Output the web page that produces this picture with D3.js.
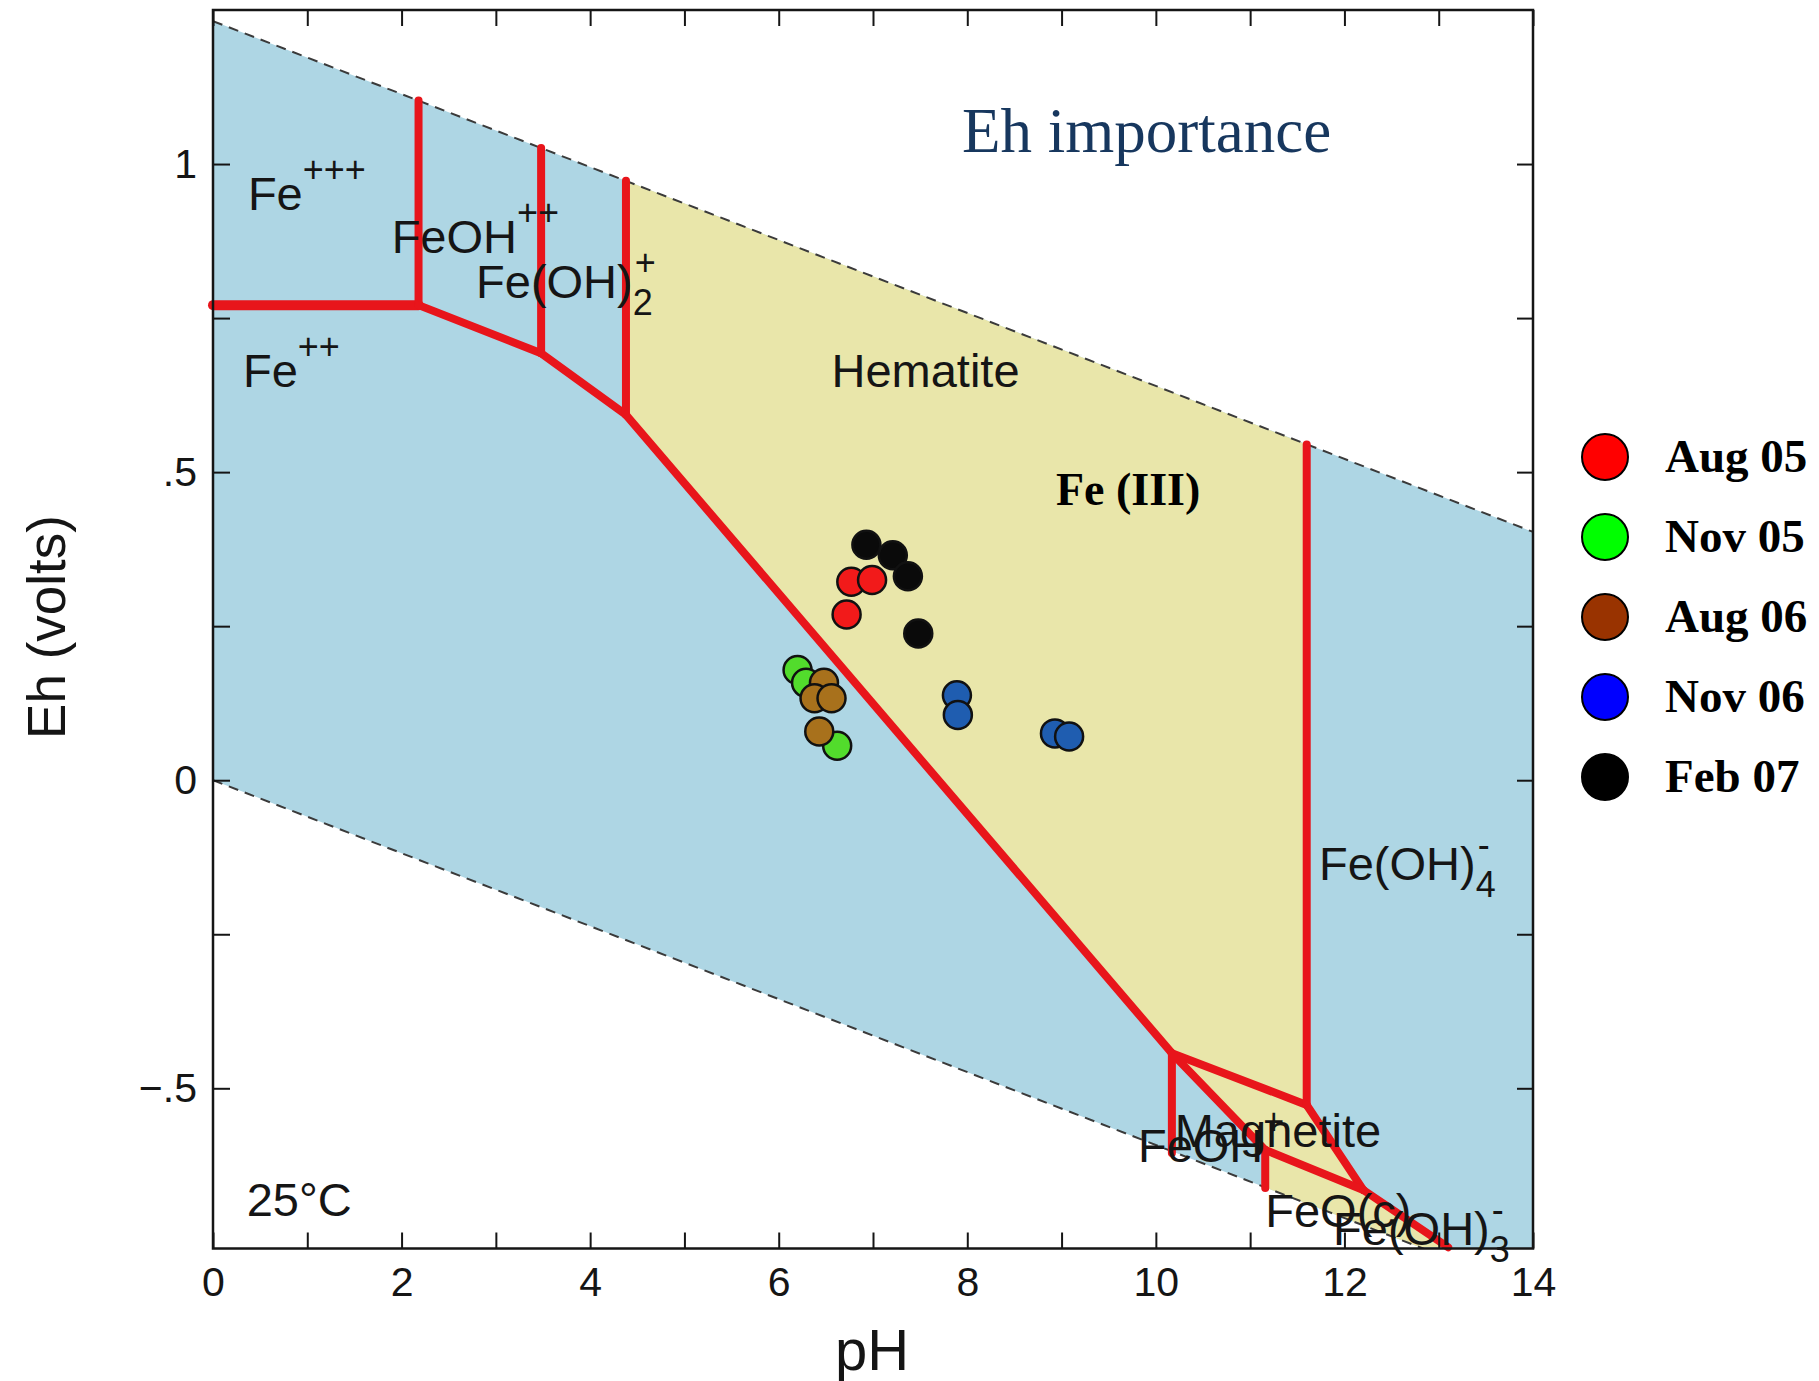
<!DOCTYPE html>
<html>
<head>
<meta charset="utf-8">
<title>Eh importance</title>
<script src="https://cdn.jsdelivr.net/npm/d3@7"></script>
<style>
  html, body { margin: 0; padding: 0; background: #fff; }
  svg { display: block; }
  .sans { font-family: "Liberation Sans", Arial, sans-serif; fill: #151515; }
  .serif { font-family: "Liberation Serif", "Times New Roman", serif; }
  .axis text { font-family: "Liberation Sans", Arial, sans-serif; font-size: 41px; fill: #151515; }
  .axis line { stroke: #151515; stroke-width: 2; }
  .axis path { display: none; }
</style>
</head>
<body>
<svg id="chart" width="1819" height="1381"></svg>
<script>
// sample points (pH, Eh in volts)
const seriesNames = ["Aug 05", "Nov 05", "Aug 06", "Nov 06", "Feb 07"];
const aug05PH = [6.77, 6.99, 6.72];
const aug05Eh = [0.322, 0.325, 0.269];
const nov05PH = [6.20, 6.29, 6.62];
const nov05Eh = [0.179, 0.158, 0.056];
const aug06PH = [6.48, 6.38, 6.56, 6.43];
const aug06Eh = [0.158, 0.133, 0.133, 0.079];
const nov06PH = [7.89, 7.90, 8.93, 9.08];
const nov06Eh = [0.138, 0.106, 0.076, 0.071];
const feb07PH = [6.93, 7.21, 7.37, 7.48];
const feb07Eh = [0.382, 0.365, 0.331, 0.238];

// axes
const xTickValues = d3.range(0, 15);
const xTickLabels = ["0", "2", "4", "6", "8", "10", "12", "14"];
const yTickValues = [-0.5, -0.25, 0, 0.25, 0.5, 0.75, 1];
const yLabelValues = [-0.5, 0, 0.5, 1];
const yTickLabels = ["\u2212.5", "0", ".5", "1"];

// water stability limits
const upperWater = [[0, 1.232], [14, 0.403]];
const lowerWater = [[0, 0], [14, -0.829]];

// stability fields
const waterField = [[0, 1.232], [14, 0.403], [14, -0.829], [0, 0]];
const hematiteField = [[4.38, 0.973], [11.6, 0.545], [11.6, -0.527], [10.17, -0.443], [4.38, 0.593]];
const magnetiteField = [[10.17, -0.443], [11.6, -0.527], [12.2, -0.665], [11.16, -0.600]];
const feoField = [[11.16, -0.600], [12.2, -0.665], [13.1, -0.758], [12.8, -0.758], [11.16, -0.661]];

// phase boundaries
const boundaries = [
	[[0, 0.771], [2.18, 0.771]],
	[[2.18, 0.771], [2.18, 1.103]],
	[[2.18, 0.771], [3.48, 0.693]],
	[[3.48, 0.693], [3.48, 1.026]],
	[[3.48, 0.693], [4.38, 0.593]],
	[[4.38, 0.593], [4.38, 0.973]],
	[[4.38, 0.593], [10.17, -0.443]],
	[[10.17, -0.443], [10.17, -0.605]],
	[[10.17, -0.443], [11.6, -0.527]],
	[[11.6, -0.527], [11.6, 0.545]],
	[[11.6, -0.527], [12.2, -0.665]],
	[[10.17, -0.443], [11.16, -0.600]],
	[[11.16, -0.600], [12.2, -0.665]],
	[[11.16, -0.600], [11.16, -0.662]],
	[[12.2, -0.665], [13.1, -0.758]]
];

// species labels
const speciesLabels = [
	{ text: "Fe", sup: "+++", ph: 0.37, eh: 0.925 },
	{ text: "FeOH", sup: "++", ph: 1.895, eh: 0.856 },
	{ text: "Fe(OH)", sub: "2", sup: "+", ph: 2.79, eh: 0.783 },
	{ text: "Fe", sup: "++", ph: 0.318, eh: 0.638 },
	{ text: "Hematite", ph: 6.56, eh: 0.638 },
	{ text: "Fe(OH)", sub: "4", sup: "-", ph: 11.73, eh: -0.162 },
	{ text: "FeOH", sup: "+", ph: 9.81, eh: -0.619 },
	{ text: "Magnetite", ph: 10.2, eh: -0.595 },
	{ text: "FeO(c)", ph: 11.16, eh: -0.725 },
	{ text: "Fe(OH)", sub: "3", sup: "-", ph: 11.88, eh: -0.754 },
	{ text: "25\u00b0C", ph: 0.357, eh: -0.708 }
];

const markColors = ["#f21a1a", "#52dc2c", "#a8711c", "#1f5db0", "#0a0a0a"];
const legendColors = ["#ff0000", "#00ff00", "#993300", "#0000ff", "#000000"];

const series = [
	{ name: seriesNames[0], ph: aug05PH, eh: aug05Eh, i: 0 },
	{ name: seriesNames[1], ph: nov05PH, eh: nov05Eh, i: 1 },
	{ name: seriesNames[2], ph: aug06PH, eh: aug06Eh, i: 2 },
	{ name: seriesNames[3], ph: nov06PH, eh: nov06Eh, i: 3 },
	{ name: seriesNames[4], ph: feb07PH, eh: feb07Eh, i: 4 }
];
// drawing order as in the figure: black first, then green, brown, red, blue
const drawOrder = [4, 1, 2, 0, 3];

function drawChart() {
	const svg = d3.select("#chart"),
		left = 213, right = 1533, top = 10, bottom = 1248.5;

	const x = d3.scaleLinear().domain([0, 14]).range([left, right]);
	const y = d3.scaleLinear().domain([-0.76, 1.25]).range([bottom, top]);
	const line = d3.line().x(d => x(d[0])).y(d => y(d[1]));

	svg.append("rect").attr("width", 1819).attr("height", 1381).attr("fill", "#fff");

	svg.append("defs").append("clipPath")
		.attr("id", "clip")
		.append("rect")
		.attr("x", left).attr("y", top)
		.attr("width", right - left).attr("height", bottom - top);

	const plot = svg.append("g").attr("clip-path", "url(#clip)");

	plot.append("path").datum(waterField).attr("d", d => line(d) + "Z").attr("fill", "#aed6e4");
	[hematiteField, magnetiteField, feoField].forEach(f => {
		plot.append("path").datum(f).attr("d", d => line(d) + "Z").attr("fill", "#e9e6aa");
	});

	[upperWater, lowerWater].forEach(w => {
		plot.append("path").datum(w)
			.attr("d", line)
			.attr("fill", "none")
			.attr("stroke", "#3a3a3a")
			.attr("stroke-width", 2)
			.attr("stroke-dasharray", "10,7");
	});

	svg.append("g").selectAll("path")
		.data(boundaries)
		.join("path")
		.attr("d", line)
		.attr("fill", "none")
		.attr("stroke", "#e8151b")
		.attr("stroke-width", (d, i) => i === 0 ? 10 : 8)
		.attr("stroke-linecap", "round")
		.attr("stroke-linejoin", "round");

	// sample points
	const pts = svg.append("g");
	drawOrder.forEach(k => {
		const s = series[k];
		pts.selectAll(null)
			.data(s.ph.map((p, j) => [p, s.eh[j]]))
			.join("circle")
			.attr("cx", d => x(d[0]))
			.attr("cy", d => y(d[1]))
			.attr("r", 14)
			.attr("fill", markColors[s.i])
			.attr("stroke", "#111")
			.attr("stroke-width", 2.5);
	});

	// species labels
	speciesLabels.forEach(d => {
		const t = svg.append("text")
			.attr("class", "sans")
			.attr("x", x(d.ph))
			.attr("y", y(d.eh))
			.style("font-size", "47px");
		t.append("tspan").text(d.text);
		if (d.sub) {
			t.append("tspan").attr("dy", 17).style("font-size", "36px").text(d.sub);
		}
		if (d.sup) {
			t.append("tspan")
				.attr("dx", d.sub ? -18 : 0)
				.attr("dy", d.sub ? -40 : -28)
				.style("font-size", "36px")
				.text(d.sup);
		}
	});

	svg.append("text")
		.attr("class", "serif")
		.attr("x", x(8.94)).attr("y", y(0.447))
		.style("font-size", "46px").style("font-weight", "bold")
		.attr("fill", "#000")
		.text("Fe (III)");

	svg.append("text")
		.attr("class", "serif")
		.attr("x", x(7.944)).attr("y", y(1.0195))
		.style("font-size", "63px")
		.attr("fill", "#17375e")
		.text("Eh importance");

	// axes, ticks pointing inwards on all four sides
	svg.append("g")
		.attr("class", "axis")
		.attr("transform", "translate(0," + bottom + ")")
		.call(d3.axisBottom(x).tickValues(xTickValues).tickSize(-16).tickSizeOuter(0).tickPadding(18)
			.tickFormat(d => d % 2 === 0 ? xTickLabels[d / 2] : ""));
	svg.append("g")
		.attr("class", "axis")
		.attr("transform", "translate(0," + top + ")")
		.call(d3.axisTop(x).tickValues(xTickValues).tickSize(-16).tickSizeOuter(0).tickFormat(""));
	svg.append("g")
		.attr("class", "axis")
		.attr("transform", "translate(" + left + ",0)")
		.call(d3.axisLeft(y).tickValues(yTickValues).tickSize(-17).tickSizeOuter(0).tickPadding(16)
			.tickFormat(d => {
				const k = yLabelValues.indexOf(d);
				return k < 0 ? "" : yTickLabels[k];
			}));
	svg.append("g")
		.attr("class", "axis")
		.attr("transform", "translate(" + right + ",0)")
		.call(d3.axisRight(y).tickValues(yTickValues).tickSize(-16).tickSizeOuter(0).tickFormat(""));

	svg.append("rect")
		.attr("x", left).attr("y", top)
		.attr("width", right - left).attr("height", bottom - top)
		.attr("fill", "none")
		.attr("stroke", "#151515")
		.attr("stroke-width", 2.5);

	svg.append("text")
		.attr("class", "sans")
		.attr("x", (left + right) / 2 - 1).attr("y", 1370)
		.attr("text-anchor", "middle")
		.style("font-size", "58px")
		.text("pH");

	svg.append("text")
		.attr("class", "sans")
		.attr("transform", "translate(65,627) rotate(-90)")
		.attr("text-anchor", "middle")
		.style("font-size", "53px")
		.text("Eh (volts)");

	// legend
	const legend = svg.append("g").attr("transform", "translate(1605,457)");
	const item = legend.selectAll("g")
		.data(series)
		.join("g")
		.attr("transform", (d, i) => "translate(0," + i * 80 + ")");
	item.append("circle")
		.attr("r", 23)
		.attr("fill", d => legendColors[d.i])
		.attr("stroke", "#000")
		.attr("stroke-width", 2);
	item.append("text")
		.attr("class", "serif")
		.attr("x", 60).attr("y", 15)
		.style("font-size", "47px").style("font-weight", "bold")
		.attr("fill", "#000")
		.text(d => d.name);
}

window.addEventListener("load", drawChart);
</script>
</body>
</html>
